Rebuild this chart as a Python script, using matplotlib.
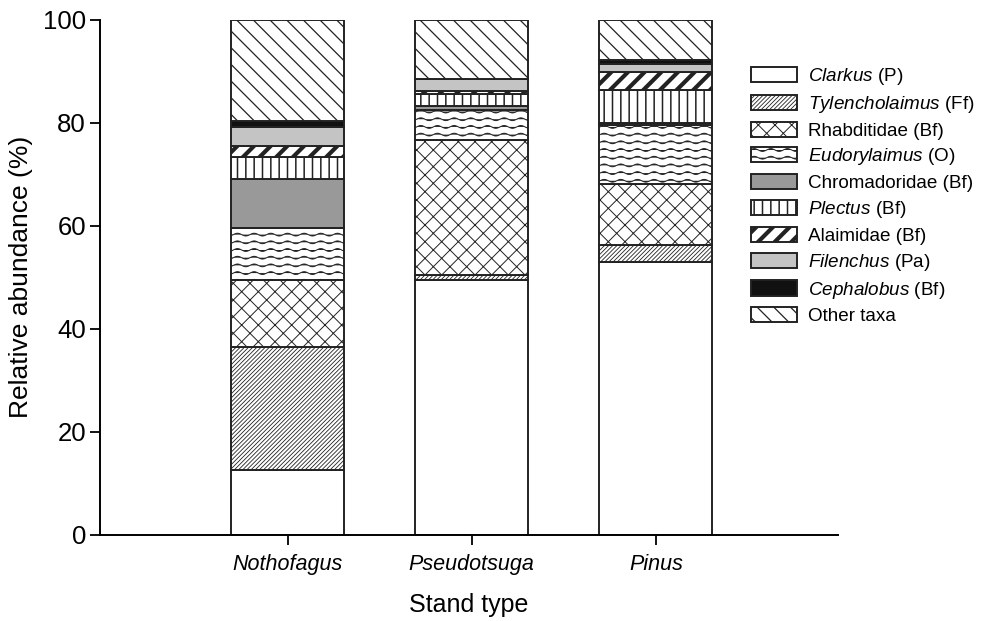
import warnings
import numpy as np
import matplotlib
matplotlib.use("Agg")
import matplotlib.pyplot as plt
from matplotlib import hatch as mhatch
from matplotlib.path import Path

warnings.filterwarnings("ignore")

stands = ["Nothofagus", "Pseudotsuga", "Pinus"]
taxa = [r"$\it{Clarkus}$ (P)", r"$\it{Tylencholaimus}$ (Ff)", "Rhabditidae (Bf)",
        r"$\it{Eudorylaimus}$ (O)", "Chromadoridae (Bf)", r"$\it{Plectus}$ (Bf)",
        "Alaimidae (Bf)", r"$\it{Filenchus}$ (Pa)", r"$\it{Cephalobus}$ (Bf)", "Other taxa"]

# relative abundance (%) per stand: Nothofagus, Pseudotsuga, Pinus
clarkus = [12.6, 49.5, 52.9]
tylencholaimus = [23.8, 0.9, 3.3]
rhabditidae = [13.0, 26.2, 11.8]
eudorylaimus = [10.2, 5.8, 11.6]
chromadoridae = [9.5, 0.8, 0.3]
plectus = [4.3, 2.3, 6.5]
alaimidae = [2.1, 0.7, 3.4]
filenchus = [3.7, 2.2, 1.6]
cephalobus = [1.2, 0.1, 0.8]
other = [19.6, 11.5, 7.8]


# wavy hatch for Eudorylaimus, triggered by '~'
class WaveHatch(mhatch.HatchPatternBase):
    def __init__(self, hatch, density):
        self.num_lines = 13 if "~" in hatch else 0
        self.npts = 73
        self.num_vertices = self.num_lines * self.npts

    def set_vertices_and_codes(self, vertices, codes):
        xs = np.linspace(0, 1, self.npts)
        for i in range(self.num_lines):
            s = slice(i * self.npts, (i + 1) * self.npts)
            vertices[s, 0] = xs
            vertices[s, 1] = (i + 0.5) / self.num_lines + 0.014 * np.sin(2 * np.pi * 6 * xs)
            codes[s] = Path.LINETO
            codes[i * self.npts] = Path.MOVETO


mhatch._hatch_types.append(WaveHatch)

plt.rcParams["font.family"] = ["Liberation Sans", "DejaVu Sans"]
plt.rcParams["mathtext.fontset"] = "custom"
plt.rcParams["mathtext.rm"] = "Liberation Sans"
plt.rcParams["mathtext.it"] = "Liberation Sans:italic"

series = [clarkus, tylencholaimus, rhabditidae, eudorylaimus, chromadoridae,
          plectus, alaimidae, filenchus, cephalobus, other]
styles = [("white", None, 0.8), ("white", "////////", 0.6), ("white", "xx", 0.7),
          ("white", "~", 0.7), ("#999999", None, 0.8), ("white", "||", 1.1),
          ("white", "//", 3.0), ("#c4c4c4", None, 0.8), ("#111111", None, 0.8),
          ("white", "\\\\", 0.9)]


def set_hlw(patch, lw):
    try:
        patch.set_hatch_linewidth(lw)
    except AttributeError:
        patch._hatch_linewidth = lw


fig = plt.figure(figsize=(9.86, 6.21), dpi=100)
ax = fig.add_axes([0.1014, 0.1385, 0.7485, 0.830])

x = np.arange(len(stands))
bottom = np.zeros(len(stands))
for vals, lab, (fc, h, hlw) in zip(series, taxa, styles):
    with plt.rc_context({"hatch.linewidth": hlw}):
        bars = ax.bar(x, vals, 0.615, bottom=bottom, color=fc, edgecolor="#222222",
                      linewidth=1.4, hatch=h, label=lab)
        for b in bars:
            set_hlw(b, hlw)
    bottom += np.array(vals)

ax.set_xlim(-1.02, 2.99)
ax.set_ylim(0, 100)
ax.set_yticks([0, 20, 40, 60, 80, 100])
ax.set_xticks(x)
ax.set_xticklabels(stands, fontstyle="italic", fontsize=15.5)
ax.tick_params(axis="y", labelsize=18.5, length=7, width=1.3, pad=3)
ax.tick_params(axis="x", length=7, width=1.3, pad=7)
for s in ["top", "right"]:
    ax.spines[s].set_visible(False)
for s in ["left", "bottom"]:
    ax.spines[s].set_linewidth(1.4)
ax.set_ylabel("Relative abundance (%)", fontsize=19, labelpad=7)
ax.set_xlabel("Stand type", fontsize=18, labelpad=13)

handles, labels = ax.get_legend_handles_labels()
leg = fig.legend(handles, labels, loc="upper left", bbox_to_anchor=(0.754, 0.906),
                 frameon=False, fontsize=13.6, handlelength=2.45, handleheight=0.85,
                 labelspacing=0.36, handletextpad=0.55, borderaxespad=0)
for p, (fc, h, hlw) in zip(leg.get_patches(), styles):
    p.set_linewidth(1.4)
    set_hlw(p, hlw)

plt.savefig("out.png", dpi=100)
